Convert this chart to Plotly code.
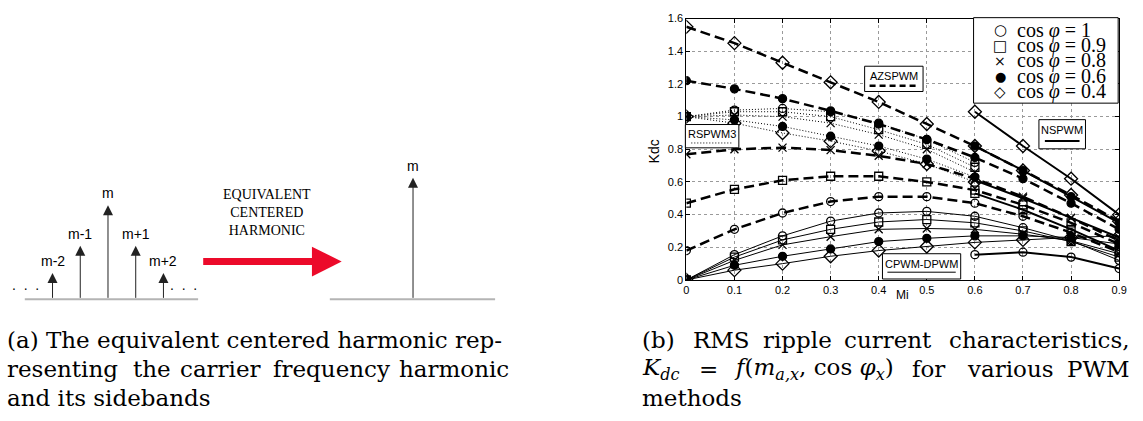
import plotly.graph_objects as go

W, H = 1143, 421

# ---------------- panel (a): harmonic diagram data ----------------
harm_offsets = [-2, -1, 0, 1, 2]
harm_labels = ['m-2', 'm-1', 'm', 'm+1', 'm+2']
harm_amps = [0.28, 0.57, 1.0, 0.57, 0.28]
equiv_pos = [11]
equiv_labels = ['m']
equiv_amps = [1.29]
left_base = [-3.0, 3.25]
right_base = [8.0, 13.96]

# ---------------- panel (b): RMS ripple current data ----------------
mi = [0.0, 0.1, 0.2, 0.3, 0.4, 0.5, 0.6, 0.7, 0.8, 0.9]
mi_tick_labels = ['0', '0.1', '0.2', '0.3', '0.4', '0.5', '0.6', '0.7', '0.8', '0.9']
kdc_ticks = [0, 0.2, 0.4, 0.6, 0.8, 1.0, 1.2, 1.4, 1.6]
kdc_tick_labels = ['0', '0.2', '0.4', '0.6', '0.8', '1', '1.2', '1.4', '1.6']
mi_rspwm = [0.0, 0.1, 0.2, 0.3, 0.4, 0.5, 0.6]
mi_nspwm = [0.6, 0.7, 0.8, 0.9]
pf_labels = ['1', '0.9', '0.8', '0.6', '0.4']

# rows: cos phi = 1, 0.9, 0.8, 0.6, 0.4
cpwm_dpwm = [
    [0, 0.155, 0.27, 0.36, 0.41, 0.42, 0.39, 0.32, 0.24, 0.12],
    [0, 0.14, 0.245, 0.31, 0.355, 0.37, 0.35, 0.30, 0.235, 0.14],
    [0, 0.12, 0.215, 0.265, 0.31, 0.315, 0.31, 0.28, 0.24, 0.16],
    [0, 0.09, 0.145, 0.19, 0.235, 0.255, 0.27, 0.27, 0.26, 0.22],
    [0, 0.06, 0.10, 0.145, 0.18, 0.205, 0.23, 0.245, 0.26, 0.27],
]
rspwm3 = [
    [1.0, 1.04, 1.05, 1.03, 0.96, 0.86, 0.72],
    [1.0, 1.03, 1.03, 1.00, 0.92, 0.83, 0.69],
    [1.0, 1.01, 1.00, 0.96, 0.89, 0.80, 0.66],
    [1.0, 0.98, 0.94, 0.88, 0.82, 0.74, 0.63],
    [1.0, 0.96, 0.90, 0.85, 0.79, 0.71, 0.60],
]
azspwm = [
    [0.18, 0.31, 0.41, 0.48, 0.51, 0.51, 0.47, 0.39, 0.29, 0.17],
    [0.47, 0.555, 0.61, 0.635, 0.635, 0.60, 0.55, 0.46, 0.35, 0.22],
    [0.77, 0.80, 0.81, 0.795, 0.76, 0.71, 0.62, 0.51, 0.38, 0.24],
    [1.22, 1.17, 1.11, 1.035, 0.955, 0.86, 0.75, 0.62, 0.47, 0.31],
    [1.55, 1.45, 1.33, 1.21, 1.09, 0.955, 0.82, 0.67, 0.52, 0.36],
]
nspwm = [
    [0.155, 0.17, 0.14, 0.07],
    [0.53, 0.43, 0.31, 0.18],
    [0.61, 0.50, 0.38, 0.26],
    [0.82, 0.67, 0.51, 0.35],
    [1.03, 0.82, 0.62, 0.40],
]

# ---------------- styles ----------------
symbols = ['circle-open', 'square-open', 'x-thin-open', 'circle', 'diamond-open']
sizes = [8, 8, 8, 8, 10]
legend_glyphs = ['\u25CB', '\u25A1', '\u00D7', '\u25CF', '\u25C7']
legend_glyph_sizes = [15, 15, 14, 13, 15]


def px(x):
    return x / W


def py(y):
    return 1 - y / H


def ann(x, y, text, size, family='Liberation Sans', xanchor='center', yanchor='middle', **kw):
    return dict(x=px(x), y=py(y), xref='paper', yref='paper', text=text, showarrow=False,
                xanchor=xanchor, yanchor=yanchor,
                font=dict(family=family, size=size, color='black'), **kw)


fig = go.Figure()

methods = [
    (mi, cpwm_dpwm, dict(width=1, dash='solid')),
    (mi_rspwm, rspwm3, dict(width=1, dash='1px,2px')),
    (mi, azspwm, dict(width=2.5, dash='10px,5px')),
    (mi_nspwm, nspwm, dict(width=2, dash='solid')),
]
for xs, rows, ls in methods:
    for i, ys in enumerate(rows):
        fig.add_trace(go.Scatter(
            x=xs, y=ys, mode='lines+markers', showlegend=False,
            line=dict(color='black', **ls),
            marker=dict(symbol=symbols[i], size=sizes[i], color='black',
                        line=dict(color='black', width=1.3)),
            xaxis='x', yaxis='y'))

# invisible trace to activate diagram axes
fig.add_trace(go.Scatter(x=harm_offsets, y=[0] * len(harm_offsets), mode='markers',
                         marker=dict(size=1, color='rgba(0,0,0,0)'),
                         showlegend=False, xaxis='x2', yaxis='y2', hoverinfo='skip'))

shapes = []
annotations = []

# ----- diagram (a) -----
for x0, x1 in (left_base, right_base):
    shapes.append(dict(type='line', xref='x2', yref='y2', x0=x0, x1=x1, y0=0, y1=0,
                       line=dict(color='#b4b4b4', width=2), layer='below'))

for k, a, lab in list(zip(harm_offsets, harm_amps, harm_labels)) + list(zip(equiv_pos, equiv_amps, equiv_labels)):
    annotations.append(dict(x=k, y=a, xref='x2', yref='y2', ax=k, ay=0, axref='x2', ayref='y2',
                            showarrow=True, arrowhead=2, arrowsize=2, arrowwidth=1,
                            arrowcolor='#222222', text=''))
    annotations.append(dict(x=k, y=a, xref='x2', yref='y2', text=lab, showarrow=False,
                            xanchor='center', yanchor='bottom', yshift=2,
                            font=dict(family='Liberation Sans', size=14, color='black')))

dots = '.\u00a0\u00a0.\u00a0\u00a0.'
for xc in (23, 182):
    annotations.append(ann(xc, 287, dots, 14))

annotations.append(dict(x=px(342), y=py(263), xref='paper', yref='paper', ax=-140, ay=0,
                        showarrow=True, arrowhead=2, arrowsize=0.85, arrowwidth=7,
                        arrowcolor='#ec0a2a', text=''))
annotations.append(ann(267, 213, 'EQUIVALENT<br>CENTERED<br>HARMONIC', 14, family='Liberation Serif'))

# ----- chart (b) label boxes -----
boxes = [
    ('AZSPWM', 870, 929, 62, 88, 72, 82, 875, 924, dict(width=2.5, dash='6px,4px')),
    ('RSPWM3', 689, 743, 122, 146, 132, 141, 695, 737, dict(width=1, dash='1px,2px')),
    ('NSPWM', 1046, 1093, 117, 147, 128, 139, 1052, 1087, dict(width=2, dash='solid')),
    ('CPWM-DPWM', 888, 967, 255, 281, 266, 274, 893, 962, dict(width=1, dash='solid')),
]
for txt, bx0, bx1, by0, by1, ty, ly, lx0, lx1, ls in boxes:
    shapes.append(dict(type='rect', xref='paper', yref='paper', x0=px(bx0), x1=px(bx1),
                       y0=py(by1), y1=py(by0), fillcolor='white',
                       line=dict(color='black', width=1)))
    shapes.append(dict(type='line', xref='paper', yref='paper', x0=px(lx0), x1=px(lx1),
                       y0=py(ly), y1=py(ly), line=dict(color='black', **ls)))
    annotations.append(ann((bx0 + bx1) / 2, ty, txt, 11))

# ----- chart (b) legend -----
shapes.append(dict(type='rect', xref='paper', yref='paper', x0=px(980), x1=px(1126),
                   y0=py(100), y1=py(12), fillcolor='white', line=dict(color='black', width=1)))
for i, (g, lab) in enumerate(zip(legend_glyphs, pf_labels)):
    yy = 25 + i * 15.8
    annotations.append(ann(1007, yy, g, legend_glyph_sizes[i], family='DejaVu Sans'))
    annotations.append(ann(1022, yy, 'cos <i>\u03c6</i> = ' + lab, 20,
                           family='Liberation Serif', xanchor='left'))

# axis titles
annotations.append(ann(657, 150, 'Kdc', 14, textangle=-90))
annotations.append(ann(908, 297, 'Mi', 12))

# ----- captions -----
cap_family = 'DejaVu Serif'
cap_size = 23
cap_words = [
    ('(a) The equivalent centered harmonic rep-', 2, 344, 'left'),
    ('resenting', 2, 374, 'left'), ('the', 129, 374, 'left'), ('carrier', 177, 374, 'left'),
    ('frequency', 271, 374, 'left'), ('harmonic', 513, 374, 'right'),
    ('and its sidebands', 2, 403, 'left'),
    ('(b)', 643, 344, 'left'), ('RMS', 695, 344, 'left'), ('ripple', 765, 344, 'left'),
    ('current', 847, 344, 'left'), ('characteristics,', 1140, 344, 'right'),
    ('<i>K</i><sub><i>dc</i></sub>', 643, 374, 'left'), ('=', 701, 374, 'left'),
    ('<i>f</i>(<i>m</i><sub><i>a,x</i></sub>, cos <i>\u03c6</i><sub><i>x</i></sub>)', 736, 374, 'left'),
    ('for', 916, 374, 'left'), ('various', 971, 374, 'left'), ('PWM', 1140, 374, 'right'),
    ('methods', 643, 403, 'left'),
]
for t, xx, yy, xa in cap_words:
    annotations.append(ann(xx, yy, t, cap_size, family=cap_family, xanchor=xa))

axis_common = dict(showline=True, linecolor='black', linewidth=1, mirror='ticks',
                   ticks='inside', ticklen=4, tickcolor='black', zeroline=False,
                   showgrid=True, gridcolor='#9a9a9a', griddash='dot', gridwidth=1,
                   tickfont=dict(family='Liberation Sans', size=11, color='black'))

fig.update_layout(
    width=W, height=H, margin=dict(l=0, r=0, t=0, b=0),
    paper_bgcolor='white', plot_bgcolor='white', showlegend=False,
    xaxis=dict(domain=[px(690), px(1127)], range=[0, 0.9], tickvals=mi,
               ticktext=mi_tick_labels, anchor='y', **axis_common),
    yaxis=dict(domain=[py(282), py(13)], range=[0, 1.6], tickvals=kdc_ticks,
               ticktext=kdc_tick_labels, anchor='x', **axis_common),
    xaxis2=dict(domain=[0, 0.5], range=[-3.786, 16.625], visible=False, anchor='y2',
                fixedrange=True),
    yaxis2=dict(domain=[0, 1], range=[-1.227, 3.113], visible=False, anchor='x2',
                fixedrange=True),
    shapes=shapes, annotations=annotations,
)

fig.write_html('out.html', config={'displayModeBar': False},
               post_script="document.body.style.margin='0';document.body.style.overflow='hidden';")
